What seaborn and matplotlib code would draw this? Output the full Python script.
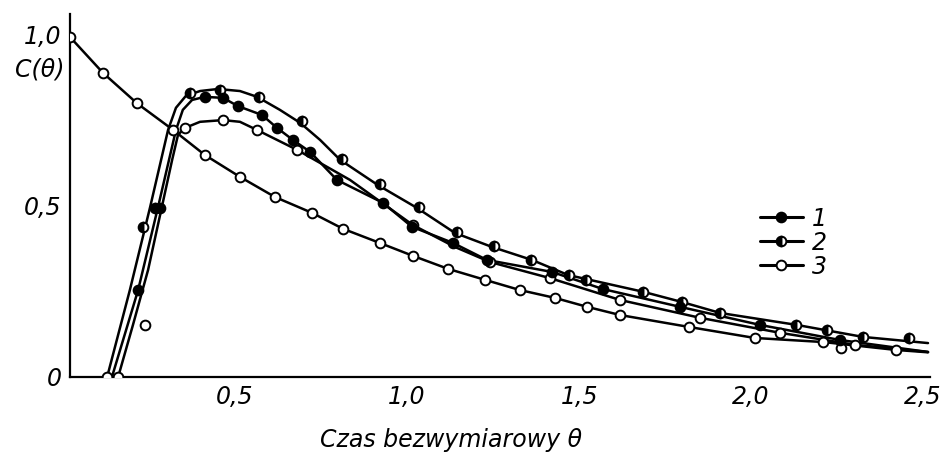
import matplotlib
matplotlib.use("Agg")
import matplotlib.pyplot as plt
import matplotlib.transforms as mtransforms
import seaborn as sns
import pandas as pd
from matplotlib.lines import Line2D
from matplotlib.ticker import FixedLocator

# ---------------- data ----------------
# curve traces (theta, C)
trace2_theta = [0.108, 0.174, 0.233, 0.285, 0.308, 0.337, 0.378, 0.43, 0.494, 0.544, 0.61,
                0.669, 0.727, 0.785, 0.895, 1.009, 1.119, 1.227, 1.343, 1.448, 1.666, 1.779,
                1.89, 2.113, 2.305, 2.494]
trace2_c = [0.0, 0.254, 0.497, 0.722, 0.787, 0.822, 0.836, 0.842, 0.836, 0.819, 0.781,
            0.743, 0.693, 0.635, 0.561, 0.494, 0.421, 0.38, 0.342, 0.298, 0.249, 0.219,
            0.187, 0.152, 0.117, 0.099]

trace1_theta = [0.122, 0.198, 0.256, 0.308, 0.328, 0.355, 0.392, 0.445, 0.488, 0.558, 0.602,
                0.648, 0.698, 0.776, 0.91, 0.994, 1.113, 1.212, 1.401, 1.549, 1.773, 2.006,
                2.238, 2.494]
trace1_c = [0.0, 0.254, 0.497, 0.722, 0.781, 0.81, 0.819, 0.816, 0.792, 0.766, 0.728,
            0.693, 0.658, 0.576, 0.509, 0.439, 0.392, 0.342, 0.307, 0.257, 0.205, 0.152,
            0.108, 0.073]

trace4_theta = [0.14, 0.183, 0.227, 0.267, 0.297, 0.314, 0.334, 0.378, 0.445, 0.494, 0.544,
                0.66, 0.814, 0.997, 1.119, 1.221, 1.395, 1.599, 1.831, 2.064, 2.282, 2.494]
trace4_c = [0.0, 0.152, 0.313, 0.497, 0.635, 0.708, 0.728, 0.746, 0.751, 0.746, 0.722,
            0.664, 0.576, 0.444, 0.38, 0.336, 0.289, 0.225, 0.173, 0.129, 0.094, 0.073]

trace3_theta = [0.0, 0.096, 0.195, 0.30, 0.392, 0.494, 0.596, 0.703, 0.794, 0.90, 0.997,
                1.099, 1.206, 1.308, 1.41, 1.503, 1.599, 1.80, 1.99, 2.19, 2.40, 2.494]
trace3_c = [0.994, 0.889, 0.80, 0.722, 0.649, 0.585, 0.526, 0.48, 0.433, 0.392, 0.354,
            0.316, 0.284, 0.254, 0.231, 0.205, 0.181, 0.146, 0.114, 0.102, 0.079, 0.072]

# measured points
pts1_theta = [0.198, 0.262, 0.392, 0.445, 0.488, 0.558, 0.602, 0.648, 0.698, 0.776, 0.91,
              0.994, 1.113, 1.212, 1.401, 1.549, 1.773, 2.006, 2.238]
pts1_c = [0.254, 0.494, 0.819, 0.816, 0.792, 0.766, 0.728, 0.693, 0.658, 0.576, 0.509,
          0.439, 0.392, 0.342, 0.307, 0.257, 0.205, 0.152, 0.108]

pts2_theta = [0.212, 0.247, 0.35, 0.436, 0.549, 0.674, 0.79, 0.90, 1.015, 1.126, 1.233,
              1.34, 1.45, 1.50, 1.665, 1.78, 1.89, 2.11, 2.2, 2.305, 2.44]
pts2_c = [0.439, 0.494, 0.829, 0.838, 0.82, 0.747, 0.638, 0.565, 0.497, 0.424, 0.382,
          0.342, 0.298, 0.284, 0.249, 0.219, 0.187, 0.152, 0.137, 0.117, 0.114]

pts4_theta = [0.108, 0.14, 0.218, 0.334, 0.445, 0.544, 0.66, 0.997, 1.221, 1.395, 1.599,
              1.831, 2.064, 2.282]
pts4_c = [0.0, 0.0, 0.152, 0.728, 0.751, 0.722, 0.664, 0.444, 0.336, 0.289, 0.225,
          0.173, 0.129, 0.094]

pts3_theta = [0.0, 0.096, 0.195, 0.30, 0.392, 0.494, 0.596, 0.703, 0.794, 0.90, 0.997,
              1.099, 1.206, 1.308, 1.41, 1.503, 1.599, 1.80, 1.99, 2.19, 2.24, 2.40]
pts3_c = [0.994, 0.889, 0.80, 0.722, 0.649, 0.585, 0.526, 0.48, 0.433, 0.392, 0.354,
          0.316, 0.284, 0.254, 0.231, 0.205, 0.181, 0.146, 0.114, 0.102, 0.085, 0.079]

legend_labels = ["1", "2", "3"]
x_major = [0.5, 1.0, 1.5, 2.0, 2.5]
x_major_labels = ["0,5", "1,0", "1,5", "2,0", "2,5"]
y_major = [0.0, 0.5, 1.0]
y_major_labels = ["0", "0,5", "1,0"]

# ---------------- style ----------------
sns.set_theme(style="white")
plt.rcParams["font.family"] = ["Liberation Sans Narrow", "DejaVu Sans"]
plt.rcParams["font.style"] = "italic"
plt.rcParams["text.color"] = "black"

fig = plt.figure(figsize=(9.51, 4.58), dpi=100)
ax = fig.add_axes([0.0736, 0.177, 0.978 - 0.0736, 0.7915])

LW = 1.8
MS = 7
MEW = 1.4

def draw_line(th, c):
    df = pd.DataFrame({"theta": th, "C": c})
    sns.lineplot(data=df, x="theta", y="C", ax=ax, color="black", lw=LW,
                 sort=False, estimator=None)

def draw_pts(th, c, **kw):
    df = pd.DataFrame({"theta": th, "C": c})
    sns.lineplot(data=df, x="theta", y="C", ax=ax, color="black", linestyle="none",
                 marker="o", markersize=MS, markeredgecolor="black", markeredgewidth=MEW,
                 sort=False, estimator=None, zorder=3, **kw)

for th, c in [(trace1_theta, trace1_c), (trace2_theta, trace2_c),
              (trace4_theta, trace4_c), (trace3_theta, trace3_c)]:
    draw_line(th, c)

draw_pts(pts3_theta, pts3_c, markerfacecolor="white")
draw_pts(pts4_theta, pts4_c, markerfacecolor="white")
draw_pts(pts2_theta, pts2_c, markerfacecolor="black", fillstyle="left",
         markerfacecoloralt="white")
draw_pts(pts1_theta, pts1_c, markerfacecolor="black")

ax.set_xlim(0, 2.5)
ax.set_ylim(0, 1.06)
ax.xaxis.set_major_locator(FixedLocator(x_major))
ax.set_xticklabels(x_major_labels)
ax.xaxis.set_minor_locator(FixedLocator([0.25, 0.75, 1.25, 1.75, 2.25]))
ax.yaxis.set_major_locator(FixedLocator(y_major))
ax.set_yticklabels(y_major_labels)
ax.yaxis.set_minor_locator(FixedLocator([0.25, 0.75]))
ax.tick_params(axis="both", which="both", direction="in", length=10, width=1.4,
               color="black", labelsize=17, labelcolor="black")
ax.tick_params(axis="x", which="major", pad=6)
ax.tick_params(axis="y", which="major", pad=6)

# nudge the x tick labels slightly left, as in the original print
shift = mtransforms.ScaledTranslation(-5 / 72, 0, fig.dpi_scale_trans)
for lab in ax.get_xticklabels():
    lab.set_transform(lab.get_transform() + shift)

for s in ["top", "right"]:
    ax.spines[s].set_visible(False)
for s in ["left", "bottom"]:
    ax.spines[s].set_color("black")
    ax.spines[s].set_linewidth(1.6)

ax.set_xlabel("")
ax.set_ylabel("")
fig.text(0.474, 0.04, "Czas bezwymiarowy θ", ha="center", va="center", fontsize=17,
         color="black")
fig.text(0.042, 0.848, "C(θ)", ha="center", va="center", fontsize=17, color="black")

handles = [
    Line2D([], [], color="black", lw=2.2, marker="o", markersize=MS,
           markerfacecolor="black", markeredgecolor="black", markeredgewidth=MEW),
    Line2D([], [], color="black", lw=2.2, marker="o", markersize=MS,
           markerfacecolor="black", fillstyle="left", markerfacecoloralt="white",
           markeredgecolor="black", markeredgewidth=MEW),
    Line2D([], [], color="black", lw=2.2, marker="o", markersize=MS,
           markerfacecolor="white", markeredgecolor="black", markeredgewidth=MEW),
]
leg = ax.legend(handles, legend_labels, loc="upper left",
                bbox_to_anchor=(0.777, 0.595), bbox_transform=fig.transFigure,
                frameon=False, fontsize=17, handlelength=1.8, handletextpad=0.4,
                labelspacing=0.0)
for t in leg.get_texts():
    t.set_color("black")

fig.savefig("out.png", dpi=100, facecolor="white")
